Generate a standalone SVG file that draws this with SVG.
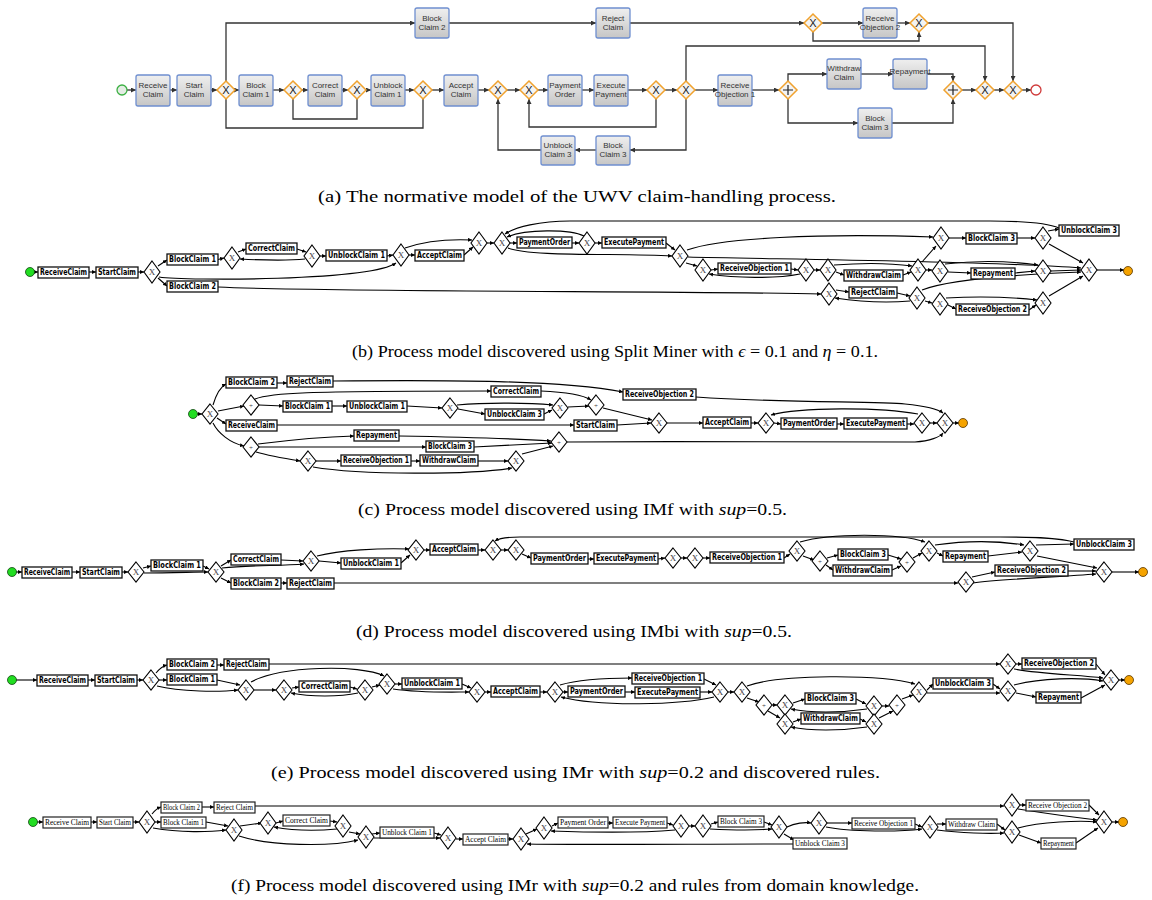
<svg xmlns="http://www.w3.org/2000/svg" xmlns:xlink="http://www.w3.org/1999/xlink" width="1152" height="900" viewBox="0 0 1152 900">
<defs>
<linearGradient id="gbox" x1="0" y1="0" x2="0" y2="1"><stop offset="0" stop-color="#efefef"/><stop offset="1" stop-color="#c6c6c6"/></linearGradient>
<marker id="ma" viewBox="0 0 6 6" refX="6" refY="3" markerWidth="5" markerHeight="5" markerUnits="userSpaceOnUse" orient="auto"><path d="M0,0 L6,3 L0,6 z" fill="#333"/></marker>
<marker id="mb" viewBox="0 0 6 6" refX="6" refY="3" markerWidth="4" markerHeight="4" markerUnits="userSpaceOnUse" orient="auto"><path d="M0,0 L6,3 L0,6 z" fill="#000"/></marker>
<g id="ga"><polygon points="0,-9 9,0 0,9 -9,0" fill="#f3f3f3" stroke="#f0a22e" stroke-width="1.5"/><text x="0" y="4" font-family="Liberation Sans, sans-serif" font-size="11" text-anchor="middle" fill="#222">X</text></g>
<g id="gpa"><polygon points="0,-9 9,0 0,9 -9,0" fill="#f3f3f3" stroke="#f0a22e" stroke-width="1.5"/><path d="M0,-5 V5 M-5,0 H5" stroke="#222" stroke-width="1.2"/></g>
<g id="dx"><polygon points="0,-11 8,0 0,11 -8,0" fill="#fff" stroke="#000" stroke-width="1.1"/><text x="0" y="3" font-family="Liberation Serif, serif" font-size="9" text-anchor="middle" fill="#444">X</text></g>
<g id="dy"><polygon points="0,-10 8,0 0,10 -8,0" fill="#fff" stroke="#000" stroke-width="1.1"/><text x="0" y="3" font-family="Liberation Serif, serif" font-size="9" text-anchor="middle" fill="#444">X</text></g>
<g id="dp"><polygon points="0,-10 8,0 0,10 -8,0" fill="#fff" stroke="#000" stroke-width="1.1"/><text x="0" y="2.5" font-family="Liberation Serif, serif" font-size="7" text-anchor="middle" fill="#444">+</text></g>
</defs>
<style>
.at rect{fill:url(#gbox);stroke:#6f8fd0;stroke-width:1.3}
.at text{font-family:"Liberation Sans",Arial,sans-serif;font-size:8px;fill:#333;text-anchor:middle}
.ea{fill:none;stroke:#333;stroke-width:1.3;marker-end:url(#ma)}
.en{fill:none;stroke:#333;stroke-width:1.3}
.t rect{fill:#fff;stroke:#111;stroke-width:1.3}
.t text{font-family:"DejaVu Sans Condensed","DejaVu Sans",sans-serif;font-weight:bold;font-size:8px;fill:#000;text-anchor:middle}
.tf rect{fill:#fff;stroke:#222;stroke-width:1.2}
.tf text{font-family:"Liberation Serif",serif;font-size:8px;fill:#000;text-anchor:middle}
.e{fill:none;stroke:#000;stroke-width:1.1;marker-end:url(#mb)}
.cap{font-family:"Liberation Serif","DejaVu Serif",serif;font-size:17.5px;fill:#000}
.st{fill:#22dd22;stroke:#114411;stroke-width:0.8}
.nd{fill:#f5a300;stroke:#553300;stroke-width:0.8}
</style>

<!-- ================= (a) ================= -->
<g id="a-edges">
<path class="ea" d="M127,90 H136"/>
<path class="ea" d="M170,90 H177"/>
<path class="ea" d="M211,90 H217"/>
<path class="ea" d="M235,90 H239"/>
<path class="ea" d="M273,90 H284"/>
<path class="ea" d="M302,90 H308"/>
<path class="ea" d="M342,90 H348"/>
<path class="ea" d="M366,90 H371"/>
<path class="ea" d="M405,90 H414"/>
<path class="ea" d="M432,90 H444"/>
<path class="ea" d="M478,90 H489"/>
<path class="ea" d="M507,90 H520"/>
<path class="ea" d="M538,90 H548"/>
<path class="ea" d="M582,90 H594"/>
<path class="ea" d="M628,90 H647"/>
<path class="ea" d="M665,90 H677"/>
<path class="ea" d="M695,90 H718"/>
<path class="ea" d="M752,90 H779"/>
<path class="ea" d="M788,81 V74 H827"/>
<path class="ea" d="M861,74 H893"/>
<path class="ea" d="M927,74 H953 V81"/>
<path class="ea" d="M788,99 V123 H858"/>
<path class="ea" d="M892,123 H953 V99"/>
<path class="ea" d="M962,90 H976"/>
<path class="ea" d="M994,90 H1004"/>
<path class="ea" d="M1022,90 H1031"/>
<path class="ea" d="M226,81 V23 H415"/>
<path class="ea" d="M449,23 H596"/>
<path class="ea" d="M630,23 H804"/>
<path class="ea" d="M822,23 H863"/>
<path class="ea" d="M897,23 H910"/>
<path class="ea" d="M813,32 V41 H919 V32"/>
<path class="ea" d="M928,23 H1013 V81"/>
<path class="en" d="M226,99 V128 H423 V99"/>
<path class="en" d="M293,99 V119 H357 V99"/>
<path class="ea" d="M686,81 V46 H985 V81"/>
<path class="ea" d="M656,99 V127 H529 V99"/>
<path class="ea" d="M686,99 V150 H630"/>
<path class="ea" d="M596,150 H575"/>
<path class="ea" d="M541,150 H498 V99"/>
</g>
<g id="a-start"><circle cx="122" cy="90" r="5" fill="#e4ece4" stroke="#3cb043" stroke-width="1.3"/></g>
<g id="a-rc" class="at"><rect x="136" y="75" width="34" height="31" rx="2"/><text x="153" y="88">Receive</text><text x="153" y="97">Claim</text></g>
<g id="a-sc" class="at"><rect x="177" y="75" width="34" height="31" rx="2"/><text x="194" y="88">Start</text><text x="194" y="97">Claim</text></g>
<g id="a-g1"><use xlink:href="#ga" x="226" y="90"/></g>
<g id="a-bc1" class="at"><rect x="239" y="75" width="34" height="31" rx="2"/><text x="256" y="88">Block</text><text x="256" y="97">Claim 1</text></g>
<g id="a-g2"><use xlink:href="#ga" x="293" y="90"/></g>
<g id="a-cc" class="at"><rect x="308" y="75" width="34" height="31" rx="2"/><text x="325" y="88">Correct</text><text x="325" y="97">Claim</text></g>
<g id="a-g3"><use xlink:href="#ga" x="357" y="90"/></g>
<g id="a-uc1" class="at"><rect x="371" y="75" width="34" height="31" rx="2"/><text x="388" y="88">Unblock</text><text x="388" y="97">Claim 1</text></g>
<g id="a-g4"><use xlink:href="#ga" x="423" y="90"/></g>
<g id="a-ac" class="at"><rect x="444" y="75" width="34" height="31" rx="2"/><text x="461" y="88">Accept</text><text x="461" y="97">Claim</text></g>
<g id="a-g5"><use xlink:href="#ga" x="498" y="90"/></g>
<g id="a-g6"><use xlink:href="#ga" x="529" y="90"/></g>
<g id="a-po" class="at"><rect x="548" y="75" width="34" height="31" rx="2"/><text x="565" y="88">Payment</text><text x="565" y="97">Order</text></g>
<g id="a-ep" class="at"><rect x="594" y="75" width="34" height="31" rx="2"/><text x="611" y="88">Execute</text><text x="611" y="97">Payment</text></g>
<g id="a-g7"><use xlink:href="#ga" x="656" y="90"/></g>
<g id="a-g8"><use xlink:href="#ga" x="686" y="90"/></g>
<g id="a-ro1" class="at"><rect x="718" y="75" width="34" height="31" rx="2"/><text x="735" y="88">Receive</text><text x="735" y="97">Objection 1</text></g>
<g id="a-p1"><use xlink:href="#gpa" x="788" y="90"/></g>
<g id="a-wc" class="at"><rect x="827" y="59" width="34" height="30" rx="2"/><text x="844" y="71">Withdraw</text><text x="844" y="80">Claim</text></g>
<g id="a-rp" class="at"><rect x="893" y="59" width="34" height="30" rx="2"/><text x="910" y="74">Repayment</text></g>
<g id="a-bc3r" class="at"><rect x="858" y="108" width="34" height="30" rx="2"/><text x="875" y="121">Block</text><text x="875" y="130">Claim 3</text></g>
<g id="a-p2"><use xlink:href="#gpa" x="953" y="90"/></g>
<g id="a-g9"><use xlink:href="#ga" x="985" y="90"/></g>
<g id="a-g10"><use xlink:href="#ga" x="1013" y="90"/></g>
<g id="a-end"><circle cx="1036" cy="90" r="5" fill="#fff" stroke="#d03a3a" stroke-width="1.3"/></g>
<g id="a-bc2" class="at"><rect x="415" y="8" width="34" height="30" rx="2"/><text x="432" y="21">Block</text><text x="432" y="30">Claim 2</text></g>
<g id="a-rj" class="at"><rect x="596" y="8" width="34" height="30" rx="2"/><text x="613" y="21">Reject</text><text x="613" y="30">Claim</text></g>
<g id="a-g11"><use xlink:href="#ga" x="813" y="23"/></g>
<g id="a-ro2" class="at"><rect x="863" y="8" width="34" height="30" rx="2"/><text x="880" y="21">Receive</text><text x="880" y="30">Objection 2</text></g>
<g id="a-g12"><use xlink:href="#ga" x="919" y="23"/></g>
<g id="a-bc3b" class="at"><rect x="596" y="136" width="34" height="29" rx="2"/><text x="613" y="148">Block</text><text x="613" y="157">Claim 3</text></g>
<g id="a-uc3" class="at"><rect x="541" y="136" width="34" height="29" rx="2"/><text x="558" y="148">Unblock</text><text x="558" y="157">Claim 3</text></g>
<text class="cap" x="318" y="202" textLength="518" lengthAdjust="spacingAndGlyphs">(a) The normative model of the UWV claim-handling process.</text>

<!-- ================= (b) ================= -->
<g id="b-edges">
<path class="e" d="M34.5,272 H38"/>
<path class="e" d="M89,272 H96"/>
<path class="e" d="M138,272 H144"/>
<path class="e" d="M158,266 L167,260"/>
<path class="e" d="M158,278 L167,286"/>
<path class="e" d="M159,277 C185,281 370,281 396,263"/>
<path class="e" d="M218,259.5 L224,258"/>
<path class="e" d="M238,252 L246,249"/>
<path class="e" d="M297,249 L306,252"/>
<path class="e" d="M305,259 C285,261 260,260 240,259"/>
<path class="e" d="M320,256 L326,256"/>
<path class="e" d="M387,256 L393,255"/>
<path class="e" d="M409,255 H415"/>
<path class="e" d="M464,255 L473,247"/>
<path class="e" d="M405,248 C425,241 450,239 472,240"/>
<path class="e" d="M487,243 H494"/>
<path class="e" d="M510,243 H517"/>
<path class="e" d="M572,243 H579"/>
<path class="e" d="M584,236 C570,229 525,229 507,237"/>
<path class="e" d="M595,243 H602"/>
<path class="e" d="M666,243 L675,250"/>
<path class="e" d="M508,248 C530,257 620,253 672,256"/>
<path class="e" d="M1059,228 C1045,222 1020,221 990,221 L570,221 C540,221 515,227 505,234"/>
<path class="e" d="M687,250 C720,238 820,233 933,237"/>
<path class="e" d="M688,257 C760,259 1000,261 1081,268"/>
<path class="e" d="M686,263 L697,266"/>
<path class="e" d="M711,270 L718,269"/>
<path class="e" d="M791,269 L798,270"/>
<path class="e" d="M800,274 C775,279 735,278 709,274"/>
<path class="e" d="M814,270 H820"/>
<path class="e" d="M836,272 L844,275"/>
<path class="e" d="M903,275 L911,272"/>
<path class="e" d="M834,265 C860,263 890,263 912,266"/>
<path class="e" d="M922,262 L936,246"/>
<path class="e" d="M926,270 H932"/>
<path class="e" d="M948,272 L971,273"/>
<path class="e" d="M1015,273 L1035,271"/>
<path class="e" d="M945,264 C980,260 1010,261 1038,265"/>
<path class="e" d="M1051,271 L1081,270"/>
<path class="e" d="M949,238 H966"/>
<path class="e" d="M1017,238 L1035,238"/>
<path class="e" d="M1048,231 L1059,229"/>
<path class="e" d="M1049,244 L1083,263"/>
<path class="e" d="M1097,270 H1124"/>
<path class="e" d="M218,287 C320,292 700,291 821,294"/>
<path class="e" d="M836,290 L849,292"/>
<path class="e" d="M897,293 L910,296"/>
<path class="e" d="M910,301 C885,303 855,301 835,298"/>
<path class="e" d="M922,290 C950,279 1030,274 1081,272"/>
<path class="e" d="M925,301 L932,303"/>
<path class="e" d="M948,305 L956,309"/>
<path class="e" d="M1029,310 L1036,305"/>
<path class="e" d="M946,298 C980,296 1010,297 1037,300"/>
<path class="e" d="M1049,296 L1083,276"/>
</g>
<g id="b-start"><circle class="st" cx="30" cy="272" r="4.5"/></g>
<g id="b-rc" class="t"><rect x="38" y="267" width="51" height="11"/><text x="63.5" y="275" textLength="47" lengthAdjust="spacingAndGlyphs">ReceiveClaim</text></g>
<g id="b-sc" class="t"><rect x="96" y="267" width="42" height="11"/><text x="117" y="275" textLength="38" lengthAdjust="spacingAndGlyphs">StartClaim</text></g>
<g id="b-g1"><use xlink:href="#dx" x="152" y="272"/></g>
<g id="b-bc1" class="t"><rect x="167" y="254" width="51" height="11"/><text x="192.5" y="262" textLength="47" lengthAdjust="spacingAndGlyphs">BlockClaim 1</text></g>
<g id="b-bc2" class="t"><rect x="167" y="281" width="51" height="11"/><text x="192.5" y="289" textLength="47" lengthAdjust="spacingAndGlyphs">BlockClaim 2</text></g>
<g id="b-g2"><use xlink:href="#dx" x="232" y="258"/></g>
<g id="b-cc" class="t"><rect x="246" y="243" width="51" height="11"/><text x="271.5" y="251" textLength="47" lengthAdjust="spacingAndGlyphs">CorrectClaim</text></g>
<g id="b-g3"><use xlink:href="#dx" x="312" y="256"/></g>
<g id="b-uc1" class="t"><rect x="326" y="250" width="61" height="11"/><text x="356.5" y="258" textLength="57" lengthAdjust="spacingAndGlyphs">UnblockClaim 1</text></g>
<g id="b-g4"><use xlink:href="#dx" x="401" y="255"/></g>
<g id="b-ac" class="t"><rect x="415" y="250" width="49" height="11"/><text x="439.5" y="258" textLength="45" lengthAdjust="spacingAndGlyphs">AcceptClaim</text></g>
<g id="b-g5"><use xlink:href="#dx" x="479" y="243"/></g>
<g id="b-g6"><use xlink:href="#dx" x="502" y="243"/></g>
<g id="b-po" class="t"><rect x="517" y="237" width="55" height="11"/><text x="544.5" y="245" textLength="51" lengthAdjust="spacingAndGlyphs">PaymentOrder</text></g>
<g id="b-g7"><use xlink:href="#dx" x="587" y="243"/></g>
<g id="b-ep" class="t"><rect x="602" y="237" width="64" height="11"/><text x="634" y="245" textLength="60" lengthAdjust="spacingAndGlyphs">ExecutePayment</text></g>
<g id="b-g8"><use xlink:href="#dx" x="680" y="256"/></g>
<g id="b-g9"><use xlink:href="#dx" x="703" y="270"/></g>
<g id="b-ro1" class="t"><rect x="718" y="263" width="73" height="11"/><text x="754.5" y="271" textLength="69" lengthAdjust="spacingAndGlyphs">ReceiveObjection 1</text></g>
<g id="b-g10"><use xlink:href="#dx" x="806" y="270"/></g>
<g id="b-g11"><use xlink:href="#dx" x="828" y="270"/></g>
<g id="b-wc" class="t"><rect x="844" y="270" width="59" height="11"/><text x="873.5" y="278" textLength="55" lengthAdjust="spacingAndGlyphs">WithdrawClaim</text></g>
<g id="b-g12"><use xlink:href="#dx" x="918" y="270"/></g>
<g id="b-g13"><use xlink:href="#dx" x="940" y="271"/></g>
<g id="b-rp" class="t"><rect x="971" y="268" width="44" height="11"/><text x="993" y="276" textLength="40" lengthAdjust="spacingAndGlyphs">Repayment</text></g>
<g id="b-g14"><use xlink:href="#dx" x="1043" y="271"/></g>
<g id="b-g15"><use xlink:href="#dx" x="941" y="238"/></g>
<g id="b-bc3" class="t"><rect x="966" y="233" width="51" height="11"/><text x="991.5" y="241" textLength="47" lengthAdjust="spacingAndGlyphs">BlockClaim 3</text></g>
<g id="b-g16"><use xlink:href="#dx" x="1043" y="238"/></g>
<g id="b-uc3" class="t"><rect x="1059" y="225" width="60" height="11"/><text x="1089" y="233" textLength="56" lengthAdjust="spacingAndGlyphs">UnblockClaim 3</text></g>
<g id="b-g17"><use xlink:href="#dx" x="1089" y="270"/></g>
<g id="b-end"><circle class="nd" cx="1128" cy="271" r="4.5"/></g>
<g id="b-g18"><use xlink:href="#dx" x="829" y="294"/></g>
<g id="b-rj" class="t"><rect x="849" y="287" width="48" height="11"/><text x="873" y="295" textLength="44" lengthAdjust="spacingAndGlyphs">RejectClaim</text></g>
<g id="b-g19"><use xlink:href="#dx" x="917" y="298"/></g>
<g id="b-g20"><use xlink:href="#dx" x="940" y="304"/></g>
<g id="b-ro2" class="t"><rect x="956" y="304" width="73" height="11"/><text x="992.5" y="312" textLength="69" lengthAdjust="spacingAndGlyphs">ReceiveObjection 2</text></g>
<g id="b-g21"><use xlink:href="#dx" x="1043" y="303"/></g>
<text class="cap" x="352" y="357" textLength="526" lengthAdjust="spacingAndGlyphs">(b) Process model discovered using Split Miner with <tspan font-style="italic">ϵ</tspan> = 0.1 and <tspan font-style="italic">η</tspan> = 0.1.</text>

<!-- ================= (c) ================= -->
<g id="c-edges">
<path class="e" d="M197,414 H202"/>
<path class="e" d="M213,405 C216,395 220,387 226,384"/>
<path class="e" d="M277,383 H287"/>
<path class="e" d="M333,381 C450,380 560,380 623,392"/>
<path class="e" d="M696,397 C780,403 880,401 905,404 C925,406 938,409 943,413"/>
<path class="e" d="M218,411 L244,406"/>
<path class="e" d="M259,405 L283,406"/>
<path class="e" d="M332,406 H347"/>
<path class="e" d="M407,406 L442,408"/>
<path class="e" d="M255,399 C270,393 300,391 491,391"/>
<path class="e" d="M458,409 L485,414"/>
<path class="e" d="M544,414 L552,410"/>
<path class="e" d="M457,405 C490,402 530,403 553,405"/>
<path class="e" d="M568,407 L589,406"/>
<path class="e" d="M541,391 C565,392 583,395 591,400"/>
<path class="e" d="M603,408 L652,420"/>
<path class="e" d="M217,418 L226,424"/>
<path class="e" d="M277,425 H574"/>
<path class="e" d="M617,425 L651,423"/>
<path class="e" d="M667,423 H703"/>
<path class="e" d="M751,423 H758"/>
<path class="e" d="M774,423 L781,424"/>
<path class="e" d="M837,424 H844"/>
<path class="e" d="M907,424 H914"/>
<path class="e" d="M918,414 C880,407 800,407 771,415"/>
<path class="e" d="M930,423 H937"/>
<path class="e" d="M953,423 H959"/>
<path class="e" d="M213,423 C218,433 230,443 244,446"/>
<path class="e" d="M258,444 C290,440 320,437 354,436"/>
<path class="e" d="M399,436 C460,437 520,439 551,441"/>
<path class="e" d="M259,447 H426"/>
<path class="e" d="M474,447 L552,443"/>
<path class="e" d="M256,452 C270,456 288,459 300,461"/>
<path class="e" d="M316,461 H341"/>
<path class="e" d="M411,461 H420"/>
<path class="e" d="M478,461 H508"/>
<path class="e" d="M313,467 C360,475 470,475 512,468"/>
<path class="e" d="M522,454 L553,446"/>
<path class="e" d="M567,442 C700,441 880,442 915,442 C930,441 940,437 943,433"/>
</g>
<g id="c-start"><circle class="st" cx="193" cy="414" r="4.5"/></g>
<g id="c-g0"><use xlink:href="#dy" x="210" y="414"/></g>
<g id="c-bc2" class="t"><rect x="226" y="377" width="51" height="11"/><text x="251.5" y="385" textLength="47" lengthAdjust="spacingAndGlyphs">BlockClaim 2</text></g>
<g id="c-rj" class="t"><rect x="287" y="376" width="46" height="11"/><text x="310" y="384" textLength="42" lengthAdjust="spacingAndGlyphs">RejectClaim</text></g>
<g id="c-p1"><use xlink:href="#dp" x="251" y="405"/></g>
<g id="c-cc" class="t"><rect x="491" y="386" width="50" height="11"/><text x="516" y="394" textLength="46" lengthAdjust="spacingAndGlyphs">CorrectClaim</text></g>
<g id="c-bc1" class="t"><rect x="283" y="401" width="49" height="11"/><text x="307.5" y="409" textLength="45" lengthAdjust="spacingAndGlyphs">BlockClaim 1</text></g>
<g id="c-uc1" class="t"><rect x="347" y="401" width="60" height="11"/><text x="377" y="409" textLength="56" lengthAdjust="spacingAndGlyphs">UnblockClaim 1</text></g>
<g id="c-g1"><use xlink:href="#dy" x="450" y="408"/></g>
<g id="c-uc3" class="t"><rect x="485" y="409" width="59" height="11"/><text x="514.5" y="417" textLength="55" lengthAdjust="spacingAndGlyphs">UnblockClaim 3</text></g>
<g id="c-g2"><use xlink:href="#dy" x="560" y="408"/></g>
<g id="c-p2"><use xlink:href="#dp" x="596" y="405"/></g>
<g id="c-rc" class="t"><rect x="226" y="420" width="51" height="11"/><text x="251.5" y="428" textLength="47" lengthAdjust="spacingAndGlyphs">ReceiveClaim</text></g>
<g id="c-sc" class="t"><rect x="574" y="420" width="43" height="11"/><text x="595.5" y="428" textLength="39" lengthAdjust="spacingAndGlyphs">StartClaim</text></g>
<g id="c-g3"><use xlink:href="#dy" x="659" y="423"/></g>
<g id="c-ac" class="t"><rect x="703" y="417" width="48" height="11"/><text x="727" y="425" textLength="44" lengthAdjust="spacingAndGlyphs">AcceptClaim</text></g>
<g id="c-g4"><use xlink:href="#dy" x="766" y="423"/></g>
<g id="c-po" class="t"><rect x="781" y="418" width="56" height="11"/><text x="809" y="426" textLength="52" lengthAdjust="spacingAndGlyphs">PaymentOrder</text></g>
<g id="c-ep" class="t"><rect x="844" y="418" width="63" height="11"/><text x="875.5" y="426" textLength="59" lengthAdjust="spacingAndGlyphs">ExecutePayment</text></g>
<g id="c-g5"><use xlink:href="#dy" x="922" y="423"/></g>
<g id="c-g6"><use xlink:href="#dy" x="945" y="423"/></g>
<g id="c-end"><circle class="nd" cx="963" cy="423" r="4.5"/></g>
<g id="c-ro2" class="t"><rect x="623" y="389" width="73" height="11"/><text x="659.5" y="397" textLength="69" lengthAdjust="spacingAndGlyphs">ReceiveObjection 2</text></g>
<g id="c-p3"><use xlink:href="#dp" x="251" y="447"/></g>
<g id="c-rp" class="t"><rect x="354" y="430" width="45" height="11"/><text x="376.5" y="438" textLength="41" lengthAdjust="spacingAndGlyphs">Repayment</text></g>
<g id="c-bc3" class="t"><rect x="426" y="441" width="48" height="11"/><text x="450" y="449" textLength="44" lengthAdjust="spacingAndGlyphs">BlockClaim 3</text></g>
<g id="c-p4"><use xlink:href="#dp" x="559" y="442"/></g>
<g id="c-g7"><use xlink:href="#dy" x="308" y="461"/></g>
<g id="c-ro1" class="t"><rect x="341" y="455" width="70" height="11"/><text x="376" y="463" textLength="66" lengthAdjust="spacingAndGlyphs">ReceiveObjection 1</text></g>
<g id="c-wc" class="t"><rect x="420" y="455" width="58" height="11"/><text x="449" y="463" textLength="54" lengthAdjust="spacingAndGlyphs">WithdrawClaim</text></g>
<g id="c-g8"><use xlink:href="#dy" x="516" y="461"/></g>
<text class="cap" x="358" y="515" textLength="429" lengthAdjust="spacingAndGlyphs">(c) Process model discovered using IMf with <tspan font-style="italic">sup</tspan>=0.5.</text>

<!-- ================= (d) ================= -->
<g id="d-edges">
<path class="e" d="M16,572 H22"/>
<path class="e" d="M72,572 H80"/>
<path class="e" d="M122,572 H128"/>
<path class="e" d="M143,568 L151,566"/>
<path class="e" d="M144,573 C170,573 195,572 208,572"/>
<path class="e" d="M203,566 L209,569"/>
<path class="e" d="M221,566 L231,560"/>
<path class="e" d="M281,560 L303,561"/>
<path class="e" d="M222,568 C250,565 280,566 304,564"/>
<path class="e" d="M221,578 L231,583"/>
<path class="e" d="M281,583 H287"/>
<path class="e" d="M334,583 H958"/>
<path class="e" d="M319,561 L341,563"/>
<path class="e" d="M401,563 L410,555"/>
<path class="e" d="M317,556 C340,550 380,548 409,549"/>
<path class="e" d="M424,550 H430"/>
<path class="e" d="M478,550 H485"/>
<path class="e" d="M501,550 H508"/>
<path class="e" d="M522,554 L531,558"/>
<path class="e" d="M588,559 H594"/>
<path class="e" d="M658,559 L665,558"/>
<path class="e" d="M681,558 H687"/>
<path class="e" d="M703,558 H710"/>
<path class="e" d="M784,558 L790,554"/>
<path class="e" d="M803,556 L814,560"/>
<path class="e" d="M827,558 L838,555"/>
<path class="e" d="M826,565 L833,570"/>
<path class="e" d="M888,555 L901,559"/>
<path class="e" d="M892,570 L901,566"/>
<path class="e" d="M913,558 L922,553"/>
<path class="e" d="M800,542 C830,533 900,533 925,542"/>
<path class="e" d="M937,553 L943,556"/>
<path class="e" d="M988,556 L1022,552"/>
<path class="e" d="M935,545 C970,540 1000,541 1024,545"/>
<path class="e" d="M1036,545 L1074,544"/>
<path class="e" d="M1037,556 L1097,568"/>
<path class="e" d="M1074,542 C1060,538 1040,537 1000,537 L520,537 C505,537 498,539 495,541"/>
<path class="e" d="M972,577 L995,572"/>
<path class="e" d="M1068,571 L1096,571"/>
<path class="e" d="M973,583 C1000,579 1060,577 1096,574"/>
<path class="e" d="M1112,572 H1139"/>
</g>
<g id="d-start"><circle class="st" cx="12" cy="572" r="4.5"/></g>
<g id="d-rc" class="t"><rect x="22" y="567" width="50" height="11"/><text x="47" y="575" textLength="46" lengthAdjust="spacingAndGlyphs">ReceiveClaim</text></g>
<g id="d-sc" class="t"><rect x="80" y="567" width="42" height="11"/><text x="101" y="575" textLength="38" lengthAdjust="spacingAndGlyphs">StartClaim</text></g>
<g id="d-g1"><use xlink:href="#dy" x="136" y="572"/></g>
<g id="d-bc1" class="t"><rect x="151" y="560" width="52" height="11"/><text x="177" y="568" textLength="48" lengthAdjust="spacingAndGlyphs">BlockClaim 1</text></g>
<g id="d-g2"><use xlink:href="#dy" x="216" y="572"/></g>
<g id="d-cc" class="t"><rect x="231" y="554" width="50" height="11"/><text x="256" y="562" textLength="46" lengthAdjust="spacingAndGlyphs">CorrectClaim</text></g>
<g id="d-g3"><use xlink:href="#dy" x="311" y="561"/></g>
<g id="d-uc1" class="t"><rect x="341" y="558" width="60" height="11"/><text x="371" y="566" textLength="56" lengthAdjust="spacingAndGlyphs">UnblockClaim 1</text></g>
<g id="d-g4"><use xlink:href="#dy" x="416" y="550"/></g>
<g id="d-ac" class="t"><rect x="430" y="544" width="48" height="11"/><text x="454" y="552" textLength="44" lengthAdjust="spacingAndGlyphs">AcceptClaim</text></g>
<g id="d-g5"><use xlink:href="#dy" x="493" y="550"/></g>
<g id="d-g6"><use xlink:href="#dy" x="516" y="550"/></g>
<g id="d-po" class="t"><rect x="531" y="553" width="57" height="11"/><text x="559.5" y="561" textLength="53" lengthAdjust="spacingAndGlyphs">PaymentOrder</text></g>
<g id="d-ep" class="t"><rect x="594" y="553" width="64" height="11"/><text x="626" y="561" textLength="60" lengthAdjust="spacingAndGlyphs">ExecutePayment</text></g>
<g id="d-g7"><use xlink:href="#dy" x="673" y="558"/></g>
<g id="d-g8"><use xlink:href="#dy" x="695" y="558"/></g>
<g id="d-ro1" class="t"><rect x="710" y="552" width="74" height="11"/><text x="747" y="560" textLength="70" lengthAdjust="spacingAndGlyphs">ReceiveObjection 1</text></g>
<g id="d-g9"><use xlink:href="#dy" x="797" y="551"/></g>
<g id="d-p1"><use xlink:href="#dp" x="820" y="561"/></g>
<g id="d-bc3" class="t"><rect x="838" y="549" width="50" height="11"/><text x="863" y="557" textLength="46" lengthAdjust="spacingAndGlyphs">BlockClaim 3</text></g>
<g id="d-wc" class="t"><rect x="833" y="565" width="59" height="11"/><text x="862.5" y="573" textLength="55" lengthAdjust="spacingAndGlyphs">WithdrawClaim</text></g>
<g id="d-p2"><use xlink:href="#dp" x="907" y="562"/></g>
<g id="d-g10"><use xlink:href="#dy" x="929" y="551"/></g>
<g id="d-rp" class="t"><rect x="943" y="551" width="45" height="11"/><text x="965.5" y="559" textLength="41" lengthAdjust="spacingAndGlyphs">Repayment</text></g>
<g id="d-g11"><use xlink:href="#dy" x="1030" y="551"/></g>
<g id="d-uc3" class="t"><rect x="1074" y="539" width="60" height="11"/><text x="1104" y="547" textLength="56" lengthAdjust="spacingAndGlyphs">UnblockClaim 3</text></g>
<g id="d-g12"><use xlink:href="#dy" x="1104" y="572"/></g>
<g id="d-end"><circle class="nd" cx="1143" cy="572" r="4.5"/></g>
<g id="d-g13"><use xlink:href="#dy" x="966" y="582"/></g>
<g id="d-ro2" class="t"><rect x="995" y="565" width="73" height="11"/><text x="1031.5" y="573" textLength="69" lengthAdjust="spacingAndGlyphs">ReceiveObjection 2</text></g>
<g id="d-bc2" class="t"><rect x="231" y="578" width="50" height="11"/><text x="256" y="586" textLength="46" lengthAdjust="spacingAndGlyphs">BlockClaim 2</text></g>
<g id="d-rj" class="t"><rect x="287" y="578" width="47" height="11"/><text x="310.5" y="586" textLength="43" lengthAdjust="spacingAndGlyphs">RejectClaim</text></g>
<text class="cap" x="356" y="637" textLength="436" lengthAdjust="spacingAndGlyphs">(d) Process model discovered using IMbi with <tspan font-style="italic">sup</tspan>=0.5.</text>

<!-- ================= (e) ================= -->
<g id="e-edges">
<path class="e" d="M16,680 H37"/>
<path class="e" d="M88,680 H95"/>
<path class="e" d="M137,680 H143"/>
<path class="e" d="M156,673 C160,668 163,666 167,665"/>
<path class="e" d="M217,665 H224"/>
<path class="e" d="M269,664 H1000"/>
<path class="e" d="M159,680 H167"/>
<path class="e" d="M217,680 L240,685"/>
<path class="e" d="M157,686 C180,692 220,692 238,690"/>
<path class="e" d="M254,690 H276"/>
<path class="e" d="M292,688 L299,687"/>
<path class="e" d="M350,687 L357,689"/>
<path class="e" d="M358,693 C340,697 310,697 291,693"/>
<path class="e" d="M251,682 C280,666 360,664 384,676"/>
<path class="e" d="M372,687 L380,685"/>
<path class="e" d="M395,684 H402"/>
<path class="e" d="M462,684 L471,688"/>
<path class="e" d="M393,689 C420,693 450,692 469,692"/>
<path class="e" d="M485,692 H491"/>
<path class="e" d="M540,692 H547"/>
<path class="e" d="M563,692 H568"/>
<path class="e" d="M560,685 C580,679 610,678 632,678"/>
<path class="e" d="M714,697 C680,705 600,707 561,697"/>
<path class="e" d="M625,692 H635"/>
<path class="e" d="M700,692 H712"/>
<path class="e" d="M704,679 L716,685"/>
<path class="e" d="M728,692 H734"/>
<path class="e" d="M747,698 L759,702"/>
<path class="e" d="M747,686 C780,674 880,674 915,684"/>
<path class="e" d="M772,705 H777"/>
<path class="e" d="M793,703 L805,699"/>
<path class="e" d="M856,699 L866,704"/>
<path class="e" d="M867,709 C840,713 810,713 791,709"/>
<path class="e" d="M768,711 L780,718"/>
<path class="e" d="M793,722 L801,719"/>
<path class="e" d="M860,719 L866,722"/>
<path class="e" d="M867,727 C840,731 810,731 791,727"/>
<path class="e" d="M882,706 H889"/>
<path class="e" d="M879,718 L893,711"/>
<path class="e" d="M902,699 L913,695"/>
<path class="e" d="M927,690 L933,684"/>
<path class="e" d="M993,684 L1000,689"/>
<path class="e" d="M927,693 H1000"/>
<path class="e" d="M1016,693 L1036,697"/>
<path class="e" d="M1081,698 L1105,685"/>
<path class="e" d="M1014,685 C1040,678 1080,677 1103,681"/>
<path class="e" d="M1016,664 H1022"/>
<path class="e" d="M1096,664 L1105,675"/>
<path class="e" d="M1014,669 C1040,674 1080,675 1103,678"/>
<path class="e" d="M1119,680 H1125"/>
</g>
<g id="e-start"><circle class="st" cx="12" cy="680" r="4.5"/></g>
<g id="e-rc" class="t"><rect x="37" y="675" width="51" height="11"/><text x="62.5" y="683" textLength="47" lengthAdjust="spacingAndGlyphs">ReceiveClaim</text></g>
<g id="e-sc" class="t"><rect x="95" y="675" width="42" height="11"/><text x="116" y="683" textLength="38" lengthAdjust="spacingAndGlyphs">StartClaim</text></g>
<g id="e-g1"><use xlink:href="#dy" x="151" y="680"/></g>
<g id="e-bc2" class="t"><rect x="167" y="659" width="50" height="11"/><text x="192" y="667" textLength="46" lengthAdjust="spacingAndGlyphs">BlockClaim 2</text></g>
<g id="e-rj" class="t"><rect x="224" y="659" width="45" height="11"/><text x="246.5" y="667" textLength="41" lengthAdjust="spacingAndGlyphs">RejectClaim</text></g>
<g id="e-bc1" class="t"><rect x="167" y="674" width="50" height="11"/><text x="192" y="682" textLength="46" lengthAdjust="spacingAndGlyphs">BlockClaim 1</text></g>
<g id="e-g2"><use xlink:href="#dy" x="246" y="690"/></g>
<g id="e-g3"><use xlink:href="#dy" x="284" y="690"/></g>
<g id="e-cc" class="t"><rect x="299" y="681" width="51" height="11"/><text x="324.5" y="689" textLength="47" lengthAdjust="spacingAndGlyphs">CorrectClaim</text></g>
<g id="e-g4"><use xlink:href="#dy" x="365" y="690"/></g>
<g id="e-g5"><use xlink:href="#dy" x="387" y="684"/></g>
<g id="e-uc1" class="t"><rect x="402" y="678" width="60" height="11"/><text x="432" y="686" textLength="56" lengthAdjust="spacingAndGlyphs">UnblockClaim 1</text></g>
<g id="e-g6"><use xlink:href="#dy" x="477" y="692"/></g>
<g id="e-ac" class="t"><rect x="491" y="686" width="49" height="11"/><text x="515.5" y="694" textLength="45" lengthAdjust="spacingAndGlyphs">AcceptClaim</text></g>
<g id="e-g7"><use xlink:href="#dy" x="555" y="692"/></g>
<g id="e-po" class="t"><rect x="568" y="686" width="57" height="11"/><text x="596.5" y="694" textLength="53" lengthAdjust="spacingAndGlyphs">PaymentOrder</text></g>
<g id="e-ep" class="t"><rect x="635" y="687" width="65" height="11"/><text x="667.5" y="695" textLength="61" lengthAdjust="spacingAndGlyphs">ExecutePayment</text></g>
<g id="e-ro1" class="t"><rect x="632" y="673" width="72" height="11"/><text x="668" y="681" textLength="68" lengthAdjust="spacingAndGlyphs">ReceiveObjection 1</text></g>
<g id="e-g8"><use xlink:href="#dy" x="720" y="692"/></g>
<g id="e-g9"><use xlink:href="#dy" x="742" y="692"/></g>
<g id="e-p1"><use xlink:href="#dp" x="764" y="705"/></g>
<g id="e-g10"><use xlink:href="#dy" x="785" y="705"/></g>
<g id="e-bc3" class="t"><rect x="805" y="693" width="51" height="11"/><text x="830.5" y="701" textLength="47" lengthAdjust="spacingAndGlyphs">BlockClaim 3</text></g>
<g id="e-g11"><use xlink:href="#dy" x="874" y="706"/></g>
<g id="e-g12"><use xlink:href="#dy" x="785" y="724"/></g>
<g id="e-wc" class="t"><rect x="801" y="713" width="59" height="11"/><text x="830.5" y="721" textLength="55" lengthAdjust="spacingAndGlyphs">WithdrawClaim</text></g>
<g id="e-g13"><use xlink:href="#dy" x="874" y="724"/></g>
<g id="e-p2"><use xlink:href="#dp" x="897" y="705"/></g>
<g id="e-g14"><use xlink:href="#dy" x="919" y="692"/></g>
<g id="e-uc3" class="t"><rect x="933" y="678" width="60" height="11"/><text x="963" y="686" textLength="56" lengthAdjust="spacingAndGlyphs">UnblockClaim 3</text></g>
<g id="e-g15"><use xlink:href="#dy" x="1008" y="691"/></g>
<g id="e-rp" class="t"><rect x="1036" y="692" width="45" height="11"/><text x="1058.5" y="700" textLength="41" lengthAdjust="spacingAndGlyphs">Repayment</text></g>
<g id="e-g16"><use xlink:href="#dy" x="1008" y="664"/></g>
<g id="e-ro2" class="t"><rect x="1022" y="658" width="74" height="11"/><text x="1059" y="666" textLength="70" lengthAdjust="spacingAndGlyphs">ReceiveObjection 2</text></g>
<g id="e-g17"><use xlink:href="#dy" x="1111" y="680"/></g>
<g id="e-end"><circle class="nd" cx="1129" cy="680" r="4.5"/></g>
<text class="cap" x="271" y="778" textLength="609" lengthAdjust="spacingAndGlyphs">(e) Process model discovered using IMr with <tspan font-style="italic">sup</tspan>=0.2 and discovered rules.</text>

<!-- ================= (f) ================= -->
<g id="f-edges">
<path class="e" d="M37,822 H43"/>
<path class="e" d="M91,822 H97"/>
<path class="e" d="M133,822 H139"/>
<path class="e" d="M152,814 C155,810 158,808 161,807"/>
<path class="e" d="M202,807 H214"/>
<path class="e" d="M255,806 H1004"/>
<path class="e" d="M155,822 H161"/>
<path class="e" d="M206,822 L228,826"/>
<path class="e" d="M153,828 C180,833 210,832 226,830"/>
<path class="e" d="M240,826 L262,823"/>
<path class="e" d="M276,823 L283,821"/>
<path class="e" d="M330,821 L337,822"/>
<path class="e" d="M337,829 C315,831 290,830 274,827"/>
<path class="e" d="M239,836 C270,846 330,847 358,840"/>
<path class="e" d="M349,832 L360,834"/>
<path class="e" d="M372,834 L380,833"/>
<path class="e" d="M434,833 L441,835"/>
<path class="e" d="M374,838 H440"/>
<path class="e" d="M456,839 H463"/>
<path class="e" d="M508,839 H513"/>
<path class="e" d="M526,834 L537,829"/>
<path class="e" d="M552,826 L558,823"/>
<path class="e" d="M608,823 H613"/>
<path class="e" d="M667,823 L673,825"/>
<path class="e" d="M675,830 C640,833 580,832 551,831"/>
<path class="e" d="M689,826 H695"/>
<path class="e" d="M711,824 L718,822"/>
<path class="e" d="M764,822 L772,825"/>
<path class="e" d="M710,829 C730,830 760,830 772,829"/>
<path class="e" d="M784,834 L794,840"/>
<path class="e" d="M793,844 C700,844 560,845 527,844"/>
<path class="e" d="M787,827 C795,823 805,822 811,823"/>
<path class="e" d="M827,823 L852,823"/>
<path class="e" d="M915,824 L922,827"/>
<path class="e" d="M826,827 C850,832 900,832 922,829"/>
<path class="e" d="M937,824 L946,824"/>
<path class="e" d="M997,824 L1005,830"/>
<path class="e" d="M937,830 C960,833 990,834 1004,833"/>
<path class="e" d="M1019,835 L1041,843"/>
<path class="e" d="M1076,843 L1098,828"/>
<path class="e" d="M1018,828 C1040,822 1080,820 1097,822"/>
<path class="e" d="M1020,805 H1026"/>
<path class="e" d="M1089,805 L1099,815"/>
<path class="e" d="M1018,809 C1050,814 1080,818 1097,820"/>
<path class="e" d="M1112,822 H1119"/>
</g>
<g id="f-start"><circle class="st" cx="33" cy="822" r="4.5"/></g>
<g id="f-rc" class="tf"><rect x="43" y="817" width="48" height="11"/><text x="67" y="825" textLength="44" lengthAdjust="spacingAndGlyphs">Receive Claim</text></g>
<g id="f-sc" class="tf"><rect x="97" y="817" width="36" height="11"/><text x="115" y="825" textLength="32" lengthAdjust="spacingAndGlyphs">Start Claim</text></g>
<g id="f-g1"><use xlink:href="#dx" x="147" y="822"/></g>
<g id="f-bc2" class="tf"><rect x="161" y="802" width="41" height="11"/><text x="181.5" y="810" textLength="37" lengthAdjust="spacingAndGlyphs">Block Claim 2</text></g>
<g id="f-rj" class="tf"><rect x="214" y="802" width="41" height="11"/><text x="234.5" y="810" textLength="37" lengthAdjust="spacingAndGlyphs">Reject Claim</text></g>
<g id="f-bc1" class="tf"><rect x="161" y="817" width="45" height="11"/><text x="183.5" y="825" textLength="41" lengthAdjust="spacingAndGlyphs">Block Claim 1</text></g>
<g id="f-g2"><use xlink:href="#dx" x="234" y="830"/></g>
<g id="f-g3"><use xlink:href="#dx" x="268" y="823"/></g>
<g id="f-cc" class="tf"><rect x="283" y="815" width="47" height="11"/><text x="306.5" y="823" textLength="43" lengthAdjust="spacingAndGlyphs">Correct Claim</text></g>
<g id="f-g4"><use xlink:href="#dx" x="343" y="826"/></g>
<g id="f-g5"><use xlink:href="#dx" x="366" y="837"/></g>
<g id="f-uc1" class="tf"><rect x="380" y="827" width="54" height="11"/><text x="407" y="835" textLength="50" lengthAdjust="spacingAndGlyphs">Unblock Claim 1</text></g>
<g id="f-g6"><use xlink:href="#dx" x="448" y="838"/></g>
<g id="f-ac" class="tf"><rect x="463" y="834" width="45" height="11"/><text x="485.5" y="842" textLength="41" lengthAdjust="spacingAndGlyphs">Accept Claim</text></g>
<g id="f-g7"><use xlink:href="#dx" x="521" y="839"/></g>
<g id="f-g8"><use xlink:href="#dx" x="544" y="828"/></g>
<g id="f-po" class="tf"><rect x="558" y="817" width="50" height="11"/><text x="583" y="825" textLength="46" lengthAdjust="spacingAndGlyphs">Payment Order</text></g>
<g id="f-ep" class="tf"><rect x="613" y="817" width="54" height="11"/><text x="640" y="825" textLength="50" lengthAdjust="spacingAndGlyphs">Execute Payment</text></g>
<g id="f-g9"><use xlink:href="#dx" x="681" y="826"/></g>
<g id="f-g10"><use xlink:href="#dx" x="703" y="826"/></g>
<g id="f-bc3" class="tf"><rect x="718" y="816" width="46" height="11"/><text x="741" y="824" textLength="42" lengthAdjust="spacingAndGlyphs">Block Claim 3</text></g>
<g id="f-g11"><use xlink:href="#dx" x="779" y="827"/></g>
<g id="f-uc3" class="tf"><rect x="793" y="838" width="54" height="11"/><text x="820" y="846" textLength="50" lengthAdjust="spacingAndGlyphs">Unblock Claim 3</text></g>
<g id="f-g12"><use xlink:href="#dx" x="819" y="823"/></g>
<g id="f-ro1" class="tf"><rect x="852" y="818" width="63" height="11"/><text x="883.5" y="826" textLength="59" lengthAdjust="spacingAndGlyphs">Receive Objection 1</text></g>
<g id="f-g13"><use xlink:href="#dx" x="930" y="827"/></g>
<g id="f-wc" class="tf"><rect x="946" y="819" width="51" height="11"/><text x="971.5" y="827" textLength="47" lengthAdjust="spacingAndGlyphs">Withdraw Claim</text></g>
<g id="f-g14"><use xlink:href="#dx" x="1012" y="832"/></g>
<g id="f-rp" class="tf"><rect x="1041" y="838" width="35" height="11"/><text x="1058.5" y="846" textLength="31" lengthAdjust="spacingAndGlyphs">Repayment</text></g>
<g id="f-g15"><use xlink:href="#dx" x="1012" y="805"/></g>
<g id="f-ro2" class="tf"><rect x="1026" y="800" width="63" height="11"/><text x="1057.5" y="808" textLength="59" lengthAdjust="spacingAndGlyphs">Receive Objection 2</text></g>
<g id="f-g16"><use xlink:href="#dx" x="1104" y="822"/></g>
<g id="f-end"><circle class="nd" cx="1123" cy="822" r="4.5"/></g>
<text class="cap" x="231" y="891" textLength="688" lengthAdjust="spacingAndGlyphs">(f) Process model discovered using IMr with <tspan font-style="italic">sup</tspan>=0.2 and rules from domain knowledge.</text>
</svg>
